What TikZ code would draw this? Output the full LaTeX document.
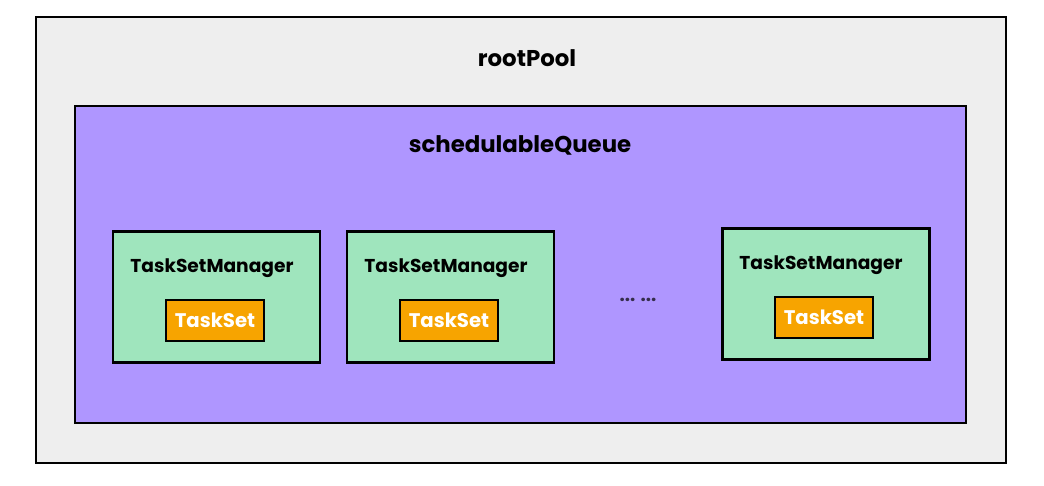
\documentclass[tikz,border=0pt]{standalone}
\usepackage{fontspec}
\setmainfont{Poppins}
\usetikzlibrary{positioning}

\definecolor{poolgray}{HTML}{EEEEEE}
\definecolor{queuepurple}{HTML}{AF96FF}
\definecolor{tsmgreen}{HTML}{9FE5BD}
\definecolor{tsorange}{HTML}{F7A400}

\begin{document}
\begin{tikzpicture}[
    x=0.02cm, y=-0.02cm,
    every node/.style={font=\bfseries\fontsize{10.6}{12}\selectfont},
    box/.style={draw=black, line width=1.4pt, rectangle, inner sep=0pt},
    pool/.style={box, fill=poolgray, minimum width=19.4cm, minimum height=8.92cm},
    queue/.style={box, fill=queuepurple, minimum width=17.82cm, minimum height=6.34cm},
    manager/.style={box, fill=tsmgreen, minimum width=4.14cm, minimum height=2.62cm},
    taskset/.style={box, fill=tsorange, text=white, minimum width=1.96cm, minimum height=0.82cm, font=\bfseries\fontsize{11.2}{13}\selectfont},
    title/.style={font=\bfseries\fontsize{13}{15}\selectfont}
]
\useasboundingbox (0,0) rectangle (1044,486);

% Containers
\node[pool] (root) at (521,240) {};
\node[title] (rootlbl) at (527,58) {rootPool};
\node[queue] (queue) at (520.5,264.5) {};
\node[title] (queuelbl) at (520,145) {schedulableQueue};

% Task set managers
\node[manager] (tsm1) at (216.5,297) {};
\node[manager] (tsm2) at (450.5,297) {};
\node[manager] (tsm3) at (826,294) {};

\node (tsm1lbl) at (212,268) {TaskSetManager};
\node (tsm2lbl) at (446,268) {TaskSetManager};
\node (tsm3lbl) at (821,265) {TaskSetManager};

% Task sets
\node[taskset] (ts1) at (215,320.5) {TaskSet};
\node[taskset] (ts2) at (449,320.5) {TaskSet};
\node[taskset] (ts3) at (824,317.5) {TaskSet};

\node[text=queuepurple!30!black] (dots) at (638,300) {... ...};

\end{tikzpicture}
\end{document}
